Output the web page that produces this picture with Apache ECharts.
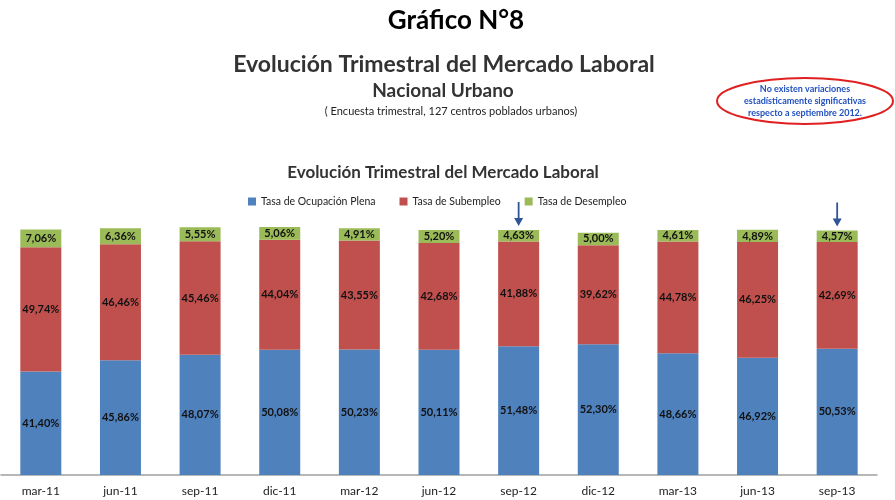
<!DOCTYPE html>
<html><head><meta charset="utf-8">
<script src="https://cdn.jsdelivr.net/npm/echarts@6/dist/echarts.min.js"></script>
<style>html,body{margin:0;padding:0;background:#fff}#c{width:895px;height:500px}</style>
</head><body><div id="c"></div>
<script>
const categories = ['mar-11','jun-11','sep-11','dic-11','mar-12','jun-12','sep-12','dic-12','mar-13','jun-13','sep-13'];
const ocupacionPlena = [41.40,45.86,48.07,50.08,50.23,50.11,51.48,52.30,48.66,46.92,50.53];
const subempleo = [49.74,46.46,45.46,44.04,43.55,42.68,41.88,39.62,44.78,46.25,42.69];
const desempleo = [7.06,6.36,5.55,5.06,4.91,5.20,4.63,5.00,4.61,4.89,4.57];
const arrowCats = ['sep-12','sep-13'];

const FONT = 'Lato';
const fmt = p => p.value.toFixed(2).replace('.', ',') + '%';
const lbl = {show:true, position:'inside', formatter:fmt, color:'#111', fontSize:11, fontFamily:FONT, fontWeight:'bold'};
const arrowData = arrowCats.map(c => {
  const i = categories.indexOf(c);
  return {coord:[c, ocupacionPlena[i]+subempleo[i]+desempleo[i]]};
});

const chart = echarts.init(document.getElementById('c'));
chart.setOption({
  animation:false,
  textStyle:{fontFamily:FONT},
  title:[
    {text:'Gráfico N°8', left:451, textAlign:'center', top:3, textStyle:{fontFamily:FONT, fontSize:26, fontWeight:'bold', color:'#000'}},
    {text:'Evolución Trimestral del Mercado Laboral', left:439, textAlign:'center', top:48, textStyle:{fontFamily:FONT, fontSize:23, fontWeight:'bold', color:'#333'}},
    {text:'Nacional Urbano', left:438, textAlign:'center', top:76, textStyle:{fontFamily:FONT, fontSize:19, fontWeight:'bold', color:'#333'}},
    {text:'( Encuesta trimestral, 127 centros poblados urbanos)', left:446, textAlign:'center', top:101, textStyle:{fontFamily:FONT, fontSize:11, fontWeight:'normal', color:'#222'}},
    {text:'Evolución Trimestral del Mercado Laboral', left:438, textAlign:'center', top:159, textStyle:{fontFamily:FONT, fontSize:17, fontWeight:'bold', color:'#333'}}
  ],
  legend:{top:191, left:243, itemWidth:8, itemHeight:8, itemGap:24, icon:'rect',
    textStyle:{fontFamily:FONT, fontSize:10.5, color:'#222'},
    data:['Tasa de Ocupación Plena','Tasa de Subempleo','Tasa de Desempleo']},
  graphic:[
    {type:'ellipse', shape:{cx:805, cy:101, rx:88, ry:23}, style:{fill:'none', stroke:'#e02020', lineWidth:2}},
    {type:'text', x:805, y:101, style:{text:'No existen variaciones\nestadísticamente significativas\nrespecto a septiembre 2012.', align:'center', verticalAlign:'middle', fill:'#2050c0', font:'bold 9px Lato', lineHeight:12}}
  ],
  grid:{left:1, right:18, top:225, bottom:25, containLabel:false},
  xAxis:{type:'category', data:categories, axisTick:{show:false},
    axisLine:{lineStyle:{color:'#a0a0a0', width:1.5}},
    axisLabel:{color:'#222', fontSize:12, fontFamily:FONT, margin:10}},
  yAxis:{type:'value', min:0, max:100, show:false, splitLine:{show:false}},
  series:[
    {name:'Tasa de Ocupación Plena', type:'bar', stack:'t', data:ocupacionPlena, barWidth:41, itemStyle:{color:'#4f81bd'}, label:lbl},
    {name:'Tasa de Subempleo', type:'bar', stack:'t', data:subempleo, itemStyle:{color:'#c0504d'}, label:lbl},
    {name:'Tasa de Desempleo', type:'bar', stack:'t', data:desempleo, itemStyle:{color:'#9bbb59'}, label:lbl,
      markPoint:{symbol:'path://M4,0 L6,0 L6,16 L10,16 L5,24 L0,16 L4,16 Z', symbolSize:[9,24], symbolOffset:[0,-16],
        itemStyle:{color:'#2f5597'}, label:{show:false}, data:arrowData}}
  ]
});
</script></body></html>
